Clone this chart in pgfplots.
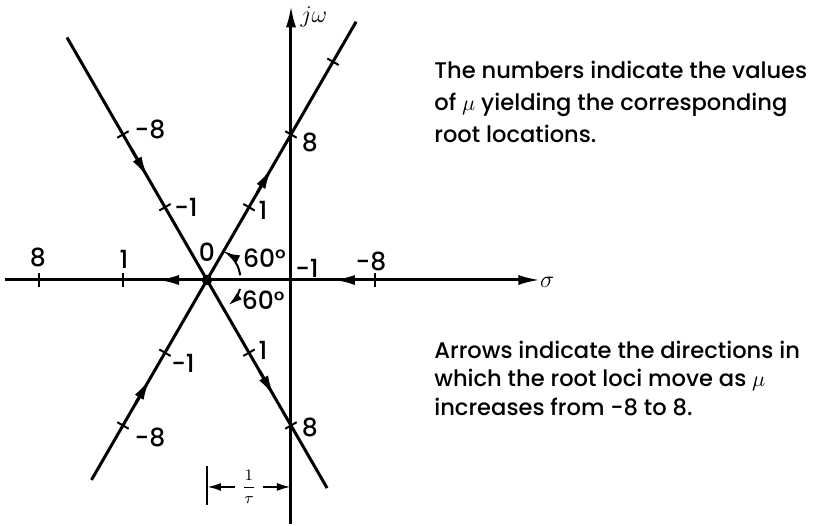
\documentclass[border=0pt]{standalone}
\usepackage{pgfplots}
\pgfplotsset{compat=1.18}
\usepackage{fontspec}
\setmainfont{Poppins}[UprightFont=* Medium]
\usetikzlibrary{arrows.meta}

\begin{document}
\begin{tikzpicture}[
  lab/.style={font=\fontsize{12.5}{14}\selectfont, inner sep=0pt},
  txt/.style={font=\fontsize{11.3}{13}\selectfont, inner sep=0pt, anchor=base west},
]
\begin{axis}[
  x=42pt, y=42pt,
  xmin=-3.464, xmax=6.25, ymin=-2.905, ymax=3.333,
  hide axis, clip=false,
  loc/.style={black, line width=1.5pt, no markers},
  tip/.style={black, line width=1.5pt, no markers, -{Latex[length=11pt,width=5pt]}},
  tk/.style={black, line width=1pt, only marks, mark=|, mark size=3.3pt},
]
% keep the whole frame in the bounding box
\addplot[draw=none, no markers] coordinates {(-3.464,-2.905) (6.25,3.333)};

% s-plane axes
\addplot[tip] coordinates {(-3.40,0) (2.97,0)};
\addplot[tip] coordinates {(0,-2.905) (0,3.27)};

% the four complex root-locus branches through s = -1/tau
\addplot[loc] coordinates {(-1,0) (0.775,3.074)};
\addplot[loc] coordinates {(-1,0) (0.43,-2.477)};
\addplot[loc] coordinates {(-1,0) (-2.667,2.887)};
\addplot[loc] coordinates {(-1,0) (-2.375,-2.38)};

% calibration ticks (mu = +-1, +-8, 27)
\addplot[tk, mark options={rotate=60}]  coordinates {(-0.5,0.866) (0,1.732) (0.5,2.598)};
\addplot[tk, mark options={rotate=-60}] coordinates {(-0.5,-0.866) (0,-1.732)};
\addplot[tk, mark options={rotate=-60}] coordinates {(-1.5,0.866) (-2,1.732)};
\addplot[tk, mark options={rotate=60}]  coordinates {(-1.5,-0.866) (-2,-1.732)};
\addplot[tk] coordinates {(-3,0) (-2,0) (1,0)};

% triple root at mu = 0
\addplot[black, only marks, mark=*, mark size=2.4pt] coordinates {(-1,0)};

% direction of motion as mu increases
\addplot[tip] coordinates {(-0.40,1.04) (-0.226,1.341)};
\addplot[tip] coordinates {(-0.37,-1.09) (-0.195,-1.394)};
\addplot[tip] coordinates {(-1.90,1.56) (-1.70,1.212)};
\addplot[tip] coordinates {(-1.85,-1.472) (-1.675,-1.169)};
\addplot[tip] coordinates {(-1.30,0) (-1.595,0)};
\addplot[tip] coordinates {(0.80,0) (0.5,0)};

% 60 degree angle arcs
\addplot[black, line width=1pt, smooth, -{Latex[length=7pt,width=4pt]}] coordinates
  {(-0.604,0.056) (-0.624,0.137) (-0.654,0.2) (-0.694,0.257) (-0.743,0.306) (-0.775,0.326)};
\addplot[black, line width=1pt, smooth, -{Latex[length=7pt,width=4pt]}] coordinates
  {(-0.607,-0.107) (-0.634,-0.175) (-0.672,-0.236) (-0.745,-0.300)};

% 1/tau dimension
\addplot[black, line width=1.1pt, no markers] coordinates {(-1,-2.22) (-1,-2.68)};
\addplot[black, line width=1.1pt, no markers, -{Latex[length=7pt,width=4pt]}] coordinates {(-0.667,-2.464) (-1,-2.464)};
\addplot[black, line width=1.1pt, no markers, -{Latex[length=7pt,width=4pt]}] coordinates {(-0.333,-2.464) (0,-2.464)};
\node[lab, font=\fontsize{8}{9}\selectfont] at (axis cs:-0.5,-2.464) {$\displaystyle\frac{1}{\tau}$};

% axis names
\node[lab, anchor=west] at (axis cs:2.96,-0.03) {$\sigma$};
\node[lab, font=\fontsize{11.5}{13}\selectfont, anchor=base west] at (axis cs:0.11,3.06) {$j\omega$};

% values of mu along the loci
\node[lab] at (axis cs:-3.012,0.274) {8};
\node[lab] at (axis cs:-1.988,0.25) {1};
\node[lab] at (axis cs:-1.0,0.333) {0};
\node[lab] at (axis cs:0.19,0.143) {-1};
\node[lab] at (axis cs:0.952,0.226) {-8};
\node[lab] at (axis cs:-1.679,1.786) {-8};
\node[lab] at (axis cs:-1.25,0.869) {-1};
\node[lab] at (axis cs:-0.333,0.833) {1};
\node[lab] at (axis cs:0.226,1.643) {8};
\node[lab] at (axis cs:-0.333,-0.833) {1};
\node[lab] at (axis cs:0.226,-1.75) {8};
\node[lab] at (axis cs:-1.286,-0.988) {-1};
\node[lab] at (axis cs:-1.679,-1.869) {-8};
\node[lab] at (axis cs:-0.315,0.262) {60\textdegree};
\node[lab] at (axis cs:-0.33,-0.238) {60\textdegree};

% notes
\node[txt] at (axis cs:1.702,2.393) {The numbers indicate the values};
\node[txt] at (axis cs:1.702,2.012) {of $\mu$ yielding the corresponding};
\node[txt] at (axis cs:1.702,1.631) {root locations.};
\node[txt] at (axis cs:1.702,-0.929) {Arrows indicate the directions in};
\node[txt] at (axis cs:1.702,-1.274) {which the root loci move as $\mu$};
\node[txt] at (axis cs:1.702,-1.619) {increases from -8 to 8.};
\end{axis}
\end{tikzpicture}
\end{document}
